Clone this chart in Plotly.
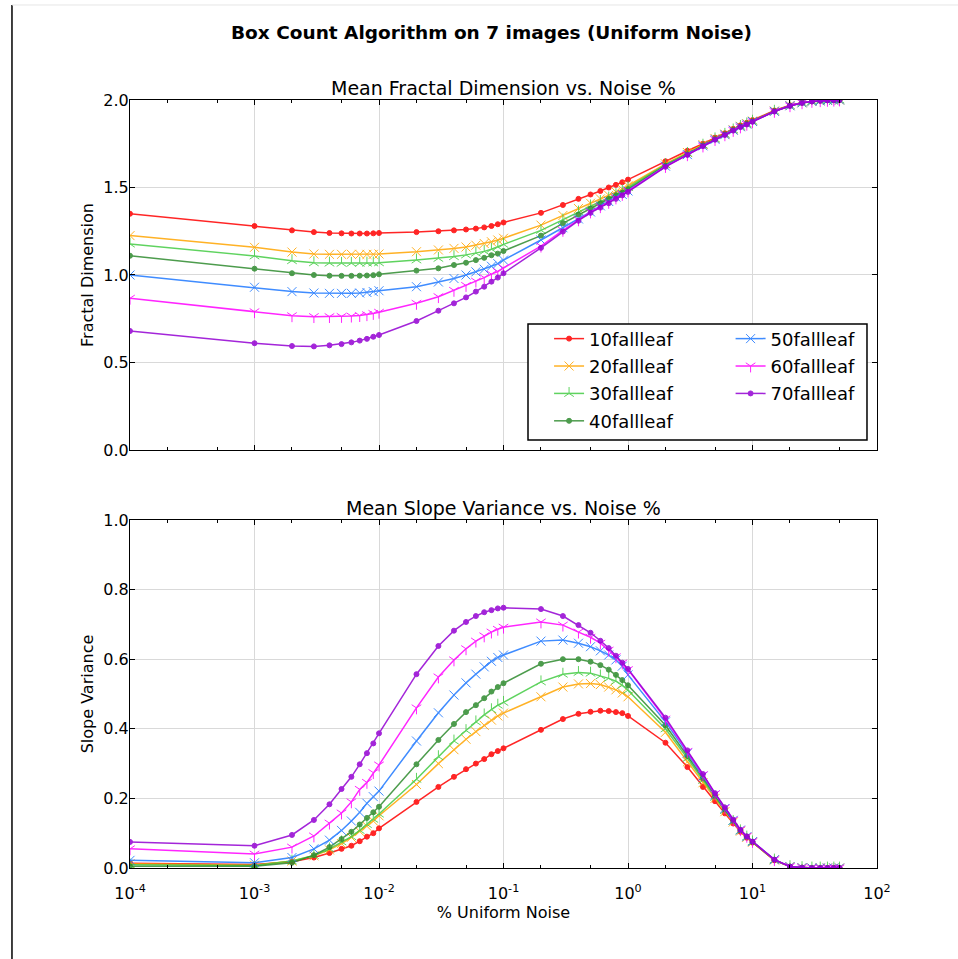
import plotly.graph_objects as go

# ---------------- data ----------------
noise_pct = [0.0001,
             0.001, 0.002, 0.003, 0.004, 0.005, 0.006, 0.007, 0.008, 0.009,
             0.01, 0.02, 0.03, 0.04, 0.05, 0.06, 0.07, 0.08, 0.09,
             0.1, 0.2, 0.3, 0.4, 0.5, 0.6, 0.7, 0.8, 0.9,
             1, 2, 3, 4, 5, 6, 7, 8, 9,
             10, 15, 20, 25, 30, 35, 40, 45, 50]

series_names = ["10fallleaf", "20fallleaf", "30fallleaf", "40fallleaf",
                "50fallleaf", "60fallleaf", "70fallleaf"]

fd_10 = [1.35,
         1.28, 1.255, 1.245, 1.24, 1.238, 1.237, 1.237, 1.237, 1.238,
         1.24, 1.245, 1.25, 1.255, 1.26, 1.265, 1.272, 1.28, 1.29,
         1.30, 1.355, 1.40, 1.435, 1.46, 1.48, 1.50, 1.515, 1.53,
         1.545, 1.65, 1.71, 1.75, 1.785, 1.81, 1.835, 1.855, 1.87,
         1.885, 1.94, 1.97, 1.985, 1.992, 1.996, 1.998, 1.999, 2.0]
fd_20 = [1.225,
         1.158, 1.131, 1.12, 1.118, 1.118, 1.118, 1.118, 1.118, 1.118,
         1.12, 1.133, 1.143, 1.152, 1.16, 1.17, 1.18, 1.19, 1.20,
         1.21, 1.285, 1.34, 1.38, 1.41, 1.435, 1.455, 1.475, 1.49,
         1.51, 1.635, 1.70, 1.745, 1.78, 1.805, 1.83, 1.85, 1.865,
         1.88, 1.937, 1.968, 1.984, 1.992, 1.996, 1.998, 1.999, 2.0]
fd_30 = [1.177,
         1.109, 1.082, 1.07, 1.068, 1.067, 1.067, 1.067, 1.068, 1.069,
         1.07, 1.086, 1.095, 1.105, 1.115, 1.125, 1.135, 1.147, 1.16,
         1.175, 1.255, 1.315, 1.36, 1.395, 1.42, 1.44, 1.46, 1.48,
         1.50, 1.63, 1.695, 1.742, 1.778, 1.804, 1.829, 1.849, 1.864,
         1.879, 1.936, 1.968, 1.984, 1.992, 1.996, 1.998, 1.999, 2.0]
fd_40 = [1.11,
         1.036, 1.01, 1.0, 0.996, 0.995, 0.995, 0.996, 0.997, 0.999,
         1.004, 1.025, 1.038, 1.057, 1.07, 1.085, 1.098, 1.113, 1.122,
         1.137, 1.225, 1.295, 1.345, 1.38, 1.41, 1.435, 1.455, 1.47,
         1.49, 1.625, 1.69, 1.74, 1.776, 1.803, 1.828, 1.848, 1.863,
         1.878, 1.936, 1.967, 1.984, 1.992, 1.996, 1.998, 1.999, 2.0]
fd_50 = [1.0,
         0.93, 0.905, 0.897, 0.895, 0.895, 0.895, 0.897, 0.9, 0.905,
         0.91, 0.933, 0.96, 0.98, 1.0, 1.018, 1.033, 1.05, 1.065,
         1.085, 1.20, 1.27, 1.32, 1.36, 1.395, 1.42, 1.445, 1.46,
         1.48, 1.622, 1.688, 1.738, 1.775, 1.802, 1.827, 1.847, 1.862,
         1.877, 1.935, 1.967, 1.984, 1.992, 1.996, 1.998, 1.999, 2.0]
fd_60 = [0.867,
         0.79, 0.767, 0.762, 0.762, 0.763, 0.765, 0.768, 0.773, 0.78,
         0.787, 0.838, 0.876, 0.912, 0.94, 0.965, 0.985, 1.005, 1.02,
         1.04, 1.165, 1.255, 1.315, 1.36, 1.39, 1.415, 1.44, 1.46,
         1.48, 1.62, 1.687, 1.737, 1.774, 1.801, 1.826, 1.846, 1.861,
         1.876, 1.935, 1.967, 1.984, 1.992, 1.996, 1.998, 1.999, 2.0]
fd_70 = [0.68,
         0.61, 0.594, 0.592, 0.598, 0.605, 0.615, 0.625, 0.635, 0.647,
         0.657, 0.737, 0.796, 0.838, 0.872, 0.905, 0.933, 0.962, 0.985,
         1.01, 1.155, 1.248, 1.31, 1.355, 1.385, 1.41, 1.435, 1.455,
         1.475, 1.618, 1.686, 1.736, 1.773, 1.8, 1.825, 1.845, 1.86,
         1.875, 1.934, 1.966, 1.983, 1.992, 1.996, 1.998, 1.999, 2.0]

sv_10 = [0.014,
         0.01, 0.018, 0.03, 0.043, 0.055, 0.064, 0.077, 0.09, 0.10,
         0.114, 0.19, 0.233, 0.262, 0.284, 0.30, 0.313, 0.327, 0.336,
         0.344, 0.397, 0.428, 0.443, 0.449, 0.452, 0.451, 0.448, 0.445,
         0.437, 0.36, 0.29, 0.233, 0.192, 0.157, 0.128, 0.104, 0.087,
         0.073, 0.022, 0.004, 0.001, 0.0, 0.0, 0.0, 0.0, 0.0]
sv_20 = [0.012,
         0.008, 0.02, 0.035, 0.052, 0.07, 0.088, 0.105, 0.12, 0.135,
         0.15, 0.24, 0.30, 0.34, 0.37, 0.392, 0.41, 0.425, 0.437,
         0.445, 0.492, 0.52, 0.529, 0.53, 0.527, 0.52, 0.512, 0.503,
         0.492, 0.39, 0.305, 0.245, 0.20, 0.162, 0.132, 0.106, 0.088,
         0.074, 0.023, 0.004, 0.001, 0.0, 0.0, 0.0, 0.0, 0.0]
sv_30 = [0.009,
         0.007, 0.02, 0.036, 0.055, 0.075, 0.09, 0.108, 0.125, 0.14,
         0.155, 0.255, 0.32, 0.365, 0.395, 0.42, 0.44, 0.455, 0.468,
         0.476, 0.535, 0.557, 0.562, 0.56, 0.552, 0.545, 0.537, 0.525,
         0.511, 0.40, 0.315, 0.252, 0.203, 0.165, 0.134, 0.107, 0.089,
         0.075, 0.023, 0.004, 0.001, 0.0, 0.0, 0.0, 0.0, 0.0]
sv_40 = [0.005,
         0.005, 0.015, 0.037, 0.06, 0.083, 0.104, 0.125, 0.144, 0.16,
         0.176, 0.298, 0.368, 0.414, 0.448, 0.468, 0.488, 0.507, 0.52,
         0.531, 0.587, 0.60, 0.60, 0.593, 0.583, 0.57, 0.555, 0.54,
         0.525, 0.41, 0.322, 0.258, 0.207, 0.168, 0.135, 0.108, 0.09,
         0.075, 0.024, 0.004, 0.001, 0.0, 0.0, 0.0, 0.0, 0.0]
sv_50 = [0.022,
         0.015, 0.03, 0.055, 0.08, 0.108, 0.135, 0.16, 0.186, 0.205,
         0.221, 0.365, 0.446, 0.497, 0.532, 0.557, 0.578, 0.594, 0.605,
         0.612, 0.652, 0.655, 0.646, 0.636, 0.624, 0.612, 0.598, 0.58,
         0.555, 0.42, 0.33, 0.264, 0.21, 0.171, 0.137, 0.109, 0.09,
         0.076, 0.024, 0.004, 0.001, 0.0, 0.0, 0.0, 0.0, 0.0]
sv_60 = [0.055,
         0.04, 0.06, 0.092, 0.129, 0.158, 0.19, 0.226, 0.246, 0.274,
         0.296, 0.46, 0.549, 0.598, 0.63, 0.652, 0.667, 0.678, 0.686,
         0.692, 0.707, 0.698, 0.678, 0.663, 0.646, 0.626, 0.607, 0.589,
         0.57, 0.428, 0.335, 0.268, 0.213, 0.173, 0.138, 0.11, 0.091,
         0.076, 0.024, 0.004, 0.001, 0.0, 0.0, 0.0, 0.0, 0.0]
sv_70 = [0.075,
         0.064, 0.095, 0.138, 0.183, 0.227, 0.262, 0.298, 0.33, 0.358,
         0.387, 0.557, 0.638, 0.682, 0.707, 0.724, 0.735, 0.741, 0.746,
         0.748, 0.744, 0.724, 0.698, 0.676, 0.653, 0.632, 0.61, 0.59,
         0.572, 0.432, 0.338, 0.27, 0.215, 0.174, 0.139, 0.11, 0.091,
         0.076, 0.024, 0.004, 0.001, 0.0, 0.0, 0.0, 0.0, 0.0]

fd_series = [fd_10, fd_20, fd_30, fd_40, fd_50, fd_60, fd_70]
sv_series = [sv_10, sv_20, sv_30, sv_40, sv_50, sv_60, sv_70]

x_tick_vals = [1e-4, 1e-3, 1e-2, 1e-1, 1, 10, 100]
x_tick_text = ["10<sup>-4</sup>", "10<sup>-3</sup>", "10<sup>-2</sup>", "10<sup>-1</sup>",
               "10<sup>0</sup>", "10<sup>1</sup>", "10<sup>2</sup>"]

# ---------------- style ----------------
colors = ["#ff0000", "#ffa500", "#44cc44", "#2e8b2e", "#1e78ff", "#ff00ff", "#9400d3"]
symbols = ["circle", "x-thin", "y-up-open", "circle", "x-thin", "y-down-open", "circle"]
sizes = [5, 9, 8, 5, 9, 8, 5]
legend_ids = ["legend", "legend", "legend", "legend", "legend2", "legend2", "legend2"]

FONT = "DejaVu Sans"
fig = go.Figure()

for i in range(7):
    mk = dict(symbol=symbols[i], size=sizes[i], color=colors[i],
              line=dict(color=colors[i], width=1))
    fig.add_trace(go.Scatter(
        x=noise_pct, y=fd_series[i], name=series_names[i], mode="lines+markers",
        line=dict(color=colors[i], width=1.5), marker=mk, opacity=0.85,
        xaxis="x", yaxis="y", legend=legend_ids[i], legendgroup=series_names[i]))
for i in range(7):
    mk = dict(symbol=symbols[i], size=sizes[i], color=colors[i],
              line=dict(color=colors[i], width=1))
    fig.add_trace(go.Scatter(
        x=noise_pct, y=sv_series[i], name=series_names[i], mode="lines+markers",
        line=dict(color=colors[i], width=1.5), marker=mk, opacity=0.85,
        xaxis="x2", yaxis="y2", showlegend=False, legendgroup=series_names[i]))

axis_common = dict(showline=True, linecolor="black", linewidth=1, mirror="ticks",
                   ticks="inside", ticklen=5, tickcolor="black",
                   showgrid=True, gridcolor="#d9d9d9", gridwidth=1, zeroline=False,
                   tickfont=dict(family=FONT, size=16, color="black"))

xminor = dict(ticks="inside", ticklen=3, tickcolor="black", showgrid=False)

fig.update_layout(
    width=958, height=959,
    paper_bgcolor="white", plot_bgcolor="white",
    margin=dict(l=130, r=81, t=100, b=91),
    font=dict(family=FONT, color="black"),
    xaxis=dict(type="log", range=[-4, 2], domain=[0, 1], anchor="y",
               tickvals=x_tick_vals, ticktext=x_tick_text, showticklabels=False,
               minor=xminor, **axis_common),
    yaxis=dict(range=[0, 2], domain=[0.5443, 1.0], anchor="x",
               tickvals=[0, 0.5, 1.0, 1.5, 2.0], ticktext=["0.0", "0.5", "1.0", "1.5", "2.0"],
               ticklabelstandoff=-3,
               title=dict(text="Fractal Dimension", font=dict(family=FONT, size=16), standoff=5),
               **axis_common),
    xaxis2=dict(type="log", range=[-4, 2], domain=[0, 1], anchor="y2",
                tickvals=x_tick_vals, ticktext=x_tick_text, ticklabelstandoff=11,
                title=dict(text="% Uniform Noise", font=dict(family=FONT, size=16), standoff=2),
                minor=xminor, **axis_common),
    yaxis2=dict(range=[0, 1], domain=[0, 0.4531], anchor="x2",
                tickvals=[0, 0.2, 0.4, 0.6, 0.8, 1.0],
                ticktext=["0.0", "0.2", "0.4", "0.6", "0.8", "1.0"],
                ticklabelstandoff=-3,
                title=dict(text="Slope Variance", font=dict(family=FONT, size=16), standoff=5),
                **axis_common),
    legend=dict(x=0.561, y=0.713, xanchor="left", yanchor="top",
                bgcolor="rgba(0,0,0,0)", borderwidth=0, tracegroupgap=1,
                font=dict(family=FONT, size=18, color="black")),
    legend2=dict(x=0.804, y=0.713, xanchor="left", yanchor="top",
                 bgcolor="rgba(0,0,0,0)", borderwidth=0, tracegroupgap=1,
                 font=dict(family=FONT, size=18, color="black")),
    showlegend=True,
    shapes=[
        dict(type="rect", xref="paper", yref="paper", x0=0.5328, x1=0.9866,
             y0=0.5573, y1=0.7083, line=dict(color="black", width=1.5),
             fillcolor="white", layer="above"),
        dict(type="line", xref="paper", yref="paper", x0=-0.158, x1=-0.158,
             y0=-0.1185, y1=1.1237, line=dict(color="black", width=1.5)),
        dict(type="line", xref="paper", yref="paper", x0=-0.158, x1=1.11,
             y0=1.1237, y1=1.1237, line=dict(color="#e6e6e6", width=1)),
    ],
    annotations=[
        dict(text="<b>Box Count Algorithm on 7 images (Uniform Noise)</b>",
             xref="paper", yref="paper", x=0.4846, y=1.0885, showarrow=False,
             xanchor="center", yanchor="middle", font=dict(family=FONT, size=18.5)),
        dict(text="Mean Fractal Dimension vs. Noise %", xref="paper", yref="paper",
             x=0.5, y=1.0156, showarrow=False, xanchor="center", yanchor="middle",
             font=dict(family=FONT, size=19)),
        dict(text="Mean Slope Variance vs. Noise %", xref="paper", yref="paper",
             x=0.5, y=0.4687, showarrow=False, xanchor="center", yanchor="middle",
             font=dict(family=FONT, size=19)),
    ],
)

fig.write_html("out.html", config={"displayModeBar": False},
               post_script="document.body.style.margin='0';")
